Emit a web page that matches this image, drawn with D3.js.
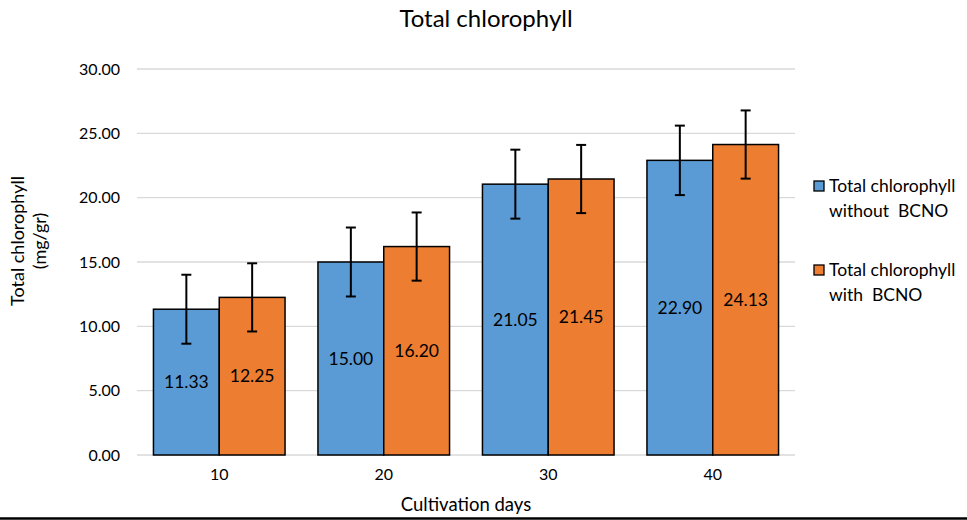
<!DOCTYPE html>
<html>
<head>
<meta charset="utf-8">
<script src="https://cdn.jsdelivr.net/npm/d3@7"></script>
<style>
  body { margin: 0; background: #fff; }
  svg text { font-family: Lato, "Open Sans", sans-serif; fill: #000; white-space: pre; }
</style>
</head>
<body>
<div id="chart"></div>
<script>
const days = ["10", "20", "30", "40"];
const withoutBCNO = [11.33, 15.00, 21.05, 22.90];
const withBCNO = [12.25, 16.20, 21.45, 24.13];
const errWithout = [2.68, 2.68, 2.68, 2.7];
const errWith = [2.65, 2.65, 2.65, 2.65];
const yTicks = [0, 5, 10, 15, 20, 25, 30];
const seriesNames = [["Total chlorophyll", "without  BCNO"], ["Total chlorophyll", "with  BCNO"]];
const colors = ["#5b9bd5", "#ed7d31"];

const width = 967, height = 520;
const m = { left: 137, right: 172, top: 69, bottom: 65 };

const svg = d3.select("#chart").append("svg")
    .attr("width", width)
    .attr("height", height);

const x = d3.scaleBand().domain(days)
    .range([m.left, width - m.right])
    .paddingInner(0.2).paddingOuter(0.1);
const xs = d3.scaleBand().domain([0, 1]).range([0, x.bandwidth()]);
const y = d3.scaleLinear().domain([0, 30]).range([height - m.bottom, m.top]);

// gridlines
svg.append("g").selectAll("line").data(yTicks).join("line")
    .attr("x1", m.left).attr("x2", width - m.right)
    .attr("y1", d => y(d)).attr("y2", d => y(d))
    .attr("stroke", "#d9d9d9").attr("stroke-width", 1.3);

// y tick labels
svg.append("g").selectAll("text").data(yTicks).join("text")
    .attr("x", 120).attr("y", d => y(d)).attr("dy", "0.35em")
    .attr("text-anchor", "end").attr("font-size", 16)
    .text(d => d3.format(".2f")(d));

// x labels
svg.append("g").selectAll("text").data(days).join("text")
    .attr("x", d => x(d) + x.bandwidth() / 2).attr("y", height - m.bottom + 25)
    .attr("text-anchor", "middle").attr("font-size", 16)
    .text(d => d);

const rows = days.map((d, i) => [
  { day: d, s: 0, v: withoutBCNO[i], e: errWithout[i] },
  { day: d, s: 1, v: withBCNO[i], e: errWith[i] }
]).flat();

const bars = svg.append("g").selectAll("g").data(rows).join("g")
    .attr("transform", d => `translate(${x(d.day) + xs(d.s)},0)`);

bars.append("rect")
    .attr("y", d => y(d.v)).attr("width", xs.bandwidth())
    .attr("height", d => y(0) - y(d.v))
    .attr("fill", d => colors[d.s]).attr("stroke", "#000").attr("stroke-width", 1.5);

bars.append("text")
    .attr("x", xs.bandwidth() / 2).attr("y", d => (y(d.v) + y(0)) / 2)
    .attr("dy", "0.35em").attr("text-anchor", "middle").attr("font-size", 17.5)
    .text(d => d3.format(".2f")(d.v));

// error bars
const eb = bars.append("g").attr("stroke", "#000").attr("stroke-width", 2);
eb.append("line").attr("x1", xs.bandwidth() / 2).attr("x2", xs.bandwidth() / 2)
    .attr("y1", d => y(d.v + d.e)).attr("y2", d => y(d.v - d.e));
eb.append("line").attr("x1", xs.bandwidth() / 2 - 5).attr("x2", xs.bandwidth() / 2 + 5)
    .attr("y1", d => y(d.v + d.e)).attr("y2", d => y(d.v + d.e));
eb.append("line").attr("x1", xs.bandwidth() / 2 - 5).attr("x2", xs.bandwidth() / 2 + 5)
    .attr("y1", d => y(d.v - d.e)).attr("y2", d => y(d.v - d.e));

// title
svg.append("text").attr("x", 486).attr("y", 27).attr("text-anchor", "middle")
    .attr("font-size", 24).text("Total chlorophyll");

// axis titles
svg.append("text").attr("x", (m.left + width - m.right) / 2).attr("y", 511)
    .attr("text-anchor", "middle").attr("font-size", 18.5).text("Cultivation days");
const yt = svg.append("text").attr("transform", "translate(24,241) rotate(-90)")
    .attr("text-anchor", "middle").attr("font-size", 18);
yt.append("tspan").attr("x", 0).attr("y", 0).text("Total chlorophyll");
yt.append("tspan").attr("x", 0).attr("y", 22).text("(mg/gr)");

// legend
const lg = svg.append("g").selectAll("g").data(seriesNames).join("g")
    .attr("transform", (d, i) => `translate(814,${186 + i * 84})`);
lg.append("rect").attr("x", 0).attr("y", -5).attr("width", 10).attr("height", 10)
    .attr("fill", (d, i) => colors[i]).attr("stroke", "#000").attr("stroke-width", 1.3);
lg.append("text").attr("font-size", 17.5).selectAll("tspan").data(d => d).join("tspan")
    .attr("x", 15).attr("y", (d, j) => j * 25).attr("dy", "0.35em").text(d => d);

// bottom border line
svg.append("line").attr("x1", 0).attr("x2", width).attr("y1", 518.5).attr("y2", 518.5)
    .attr("stroke", "#000").attr("stroke-width", 2.5);
</script>
</body>
</html>
